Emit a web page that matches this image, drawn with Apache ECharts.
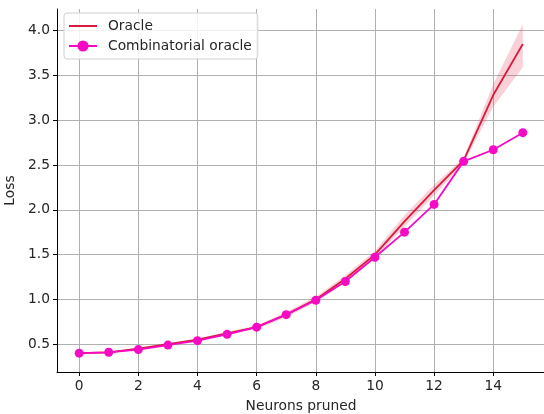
<!DOCTYPE html>
<html>
<head>
<meta charset="utf-8">
<script src="https://cdn.jsdelivr.net/npm/echarts@6/dist/echarts.min.js"></script>
<style>html,body{margin:0;padding:0;background:#fff;}#c{width:544px;height:414px;}</style>
</head>
<body>
<div id="c"></div>
<script>
const neurons = [0,1,2,3,4,5,6,7,8,9,10,11,12,13,14,15];
const oracle = [0.40,0.41,0.45,0.50,0.55,0.62,0.69,0.83,1.00,1.23,1.50,1.87,2.22,2.55,3.28,3.85];
const oracleLow = [0.39,0.40,0.44,0.49,0.54,0.60,0.67,0.80,0.97,1.19,1.46,1.81,2.16,2.52,3.15,3.59];
const oracleHigh = [0.41,0.42,0.46,0.51,0.56,0.64,0.71,0.86,1.03,1.27,1.54,1.94,2.28,2.58,3.40,4.07];
const combinatorial = [0.40,0.41,0.44,0.49,0.54,0.61,0.69,0.83,0.99,1.20,1.47,1.75,2.06,2.54,2.67,2.86];
const xTicks = [0,2,4,6,8,10,12,14];
const yTicks = [0.5,1.0,1.5,2.0,2.5,3.0,3.5,4.0];

const font = 'DejaVu Sans';
const fs = 13.8;
const chart = echarts.init(document.getElementById('c'), null, {renderer:'canvas'});
const pair = (xs, ys) => xs.map((x,i)=>[x, ys[i]]);
chart.setOption({
  animation: false,
  textStyle: {fontFamily: font},
  grid: {left: 57, right: -1, top: 9, bottom: 42, containLabel: false, outerBoundsMode: 'none'},
  xAxis: {
    type: 'value', min: -0.75, max: 15.75,
    name: 'Neurons pruned', nameLocation: 'middle', nameGap: 27,
    nameTextStyle: {fontFamily: font, fontSize: fs, color: '#262626'},
    axisLine: {show: true, onZero: false, lineStyle: {color: '#000', width: 1}},
    axisTick: {show: true, length: 4, customValues: xTicks, lineStyle: {color: '#000'}},
    axisLabel: {customValues: xTicks, fontFamily: font, fontSize: fs, color: '#262626', margin: 7},
    splitLine: {show: true, customValues: xTicks, lineStyle: {color: '#b0b0b0', width: 1}}
  },
  yAxis: {
    type: 'value', min: 0.19, max: 4.24,
    name: 'Loss', nameLocation: 'middle', nameGap: 36, nameRotate: 90,
    nameTextStyle: {fontFamily: font, fontSize: fs, color: '#262626'},
    axisLine: {show: true, onZero: false, lineStyle: {color: '#000', width: 1}},
    axisTick: {show: true, length: 4, customValues: yTicks, lineStyle: {color: '#000'}},
    axisLabel: {customValues: yTicks, fontFamily: font, fontSize: fs, color: '#262626', margin: 7,
      formatter: v => v.toFixed(1)},
    splitLine: {show: true, customValues: yTicks, lineStyle: {color: '#b0b0b0', width: 1}}
  },
  legend: {
    data: [{name: 'Oracle', itemStyle: {opacity: 0}}, {name: 'Combinatorial oracle'}],
    orient: 'vertical', left: 64, top: 13,
    padding: [6, 6, 6, 4], itemGap: 6, itemWidth: 28, itemHeight: 14,
    backgroundColor: 'rgba(255,255,255,0.85)', borderColor: '#d0d0d0', borderWidth: 1, borderRadius: 3,
    textStyle: {fontFamily: font, fontSize: fs, color: '#262626', padding: [0,0,0,6]}
  },
  series: [
    {name: 'band', type: 'custom', silent: true, z: 2,
     data: [0],
     renderItem: function (params, api) {
       const top = neurons.map((x,i)=>api.coord([x, oracleHigh[i]]));
       const bot = neurons.map((x,i)=>api.coord([x, oracleLow[i]])).reverse();
       return {type: 'polygon', shape: {points: top.concat(bot)},
               style: {fill: 'rgba(232,70,100,0.25)', stroke: 'none'}};
     }},
    {name: 'Oracle', type: 'line', data: pair(neurons, oracle), symbol: 'none',
     itemStyle: {color: '#d81b3c'}, lineStyle: {color: '#d81b3c', width: 1.8}, z: 3},
    {name: 'Combinatorial oracle', type: 'line', data: pair(neurons, combinatorial),
     symbol: 'circle', symbolSize: 9, itemStyle: {color: '#f50bc4'},
     lineStyle: {color: '#f50bc4', width: 1.8}, z: 4}
  ]
});
</script>
</body>
</html>
